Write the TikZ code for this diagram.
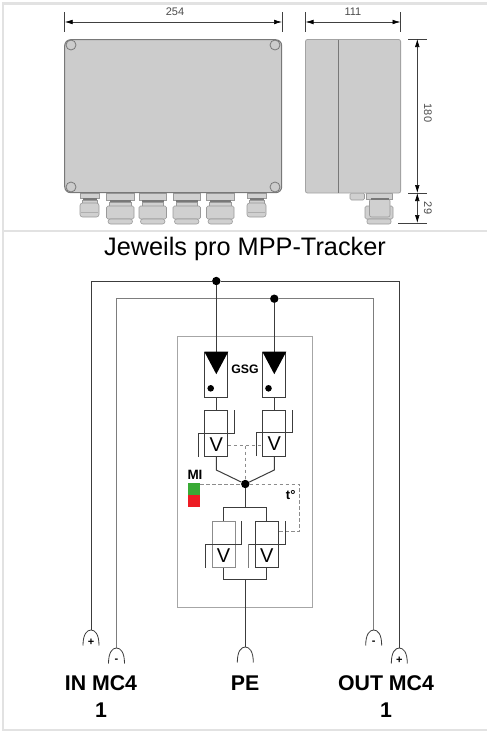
\documentclass[tikz,border=0pt]{standalone}
\usepackage{fontspec}
\setmainfont{Liberation Sans}
\usetikzlibrary{arrows.meta,calc}
\definecolor{framegray}{RGB}{226,226,226}
\definecolor{bodygray}{RGB}{204,204,204}
\definecolor{edgegray}{RGB}{120,120,120}
\definecolor{glandgray}{RGB}{208,208,208}
\definecolor{wiredark}{RGB}{60,60,60}
\definecolor{wiregray}{RGB}{125,125,125}
\definecolor{migreen}{RGB}{57,170,53}
\definecolor{mired}{RGB}{237,28,36}
\tikzset{
  frameline/.style={draw=framegray,line width=2.4pt},
  housing/.style={draw=edgegray,fill=bodygray,line width=1pt},
  screw/.style={draw=edgegray,line width=.8pt},
  dimline/.style={draw=black!75,line width=.6pt},
  dimarrow/.style={dimline,{Latex[length=8pt,width=4.6pt,black]}-{Latex[length=8pt,width=4.6pt,black]}},
  dimtext/.style={inner sep=0pt,text=black!70,font=\fontsize{11}{13}\selectfont},
  gl/.style={draw=edgegray!75,fill=glandgray,line width=.6pt},
  gldark/.style={draw=none,fill=edgegray},
  wire/.style={draw=wiredark,line width=1pt},
  wirelight/.style={draw=wiregray,line width=1pt},
  junction/.style={circle,fill=black,inner sep=0pt,minimum size=8.4pt},
  smalldot/.style={circle,fill=black,inner sep=0pt,minimum size=6.6pt},
  modulebox/.style={draw=wiredark,fill=white,line width=.9pt,minimum width=23pt,minimum height=45.6pt,inner sep=0pt},
  relay/.style={draw=wiredark,line width=.9pt,minimum width=23pt,minimum height=46pt,inner sep=0pt},
  relaygray/.style={relay,draw=black!45,line width=1pt},
  sensor/.style={draw=black!45,dash pattern=on 3.5pt off 2.5pt,line width=.8pt},
  vtext/.style={inner sep=0pt,font=\fontsize{20}{22}\selectfont},
  boldlabel/.style={inner sep=0pt,font=\bfseries\fontsize{21.3}{24}\selectfont},
  smallbold/.style={inner sep=0pt,font=\bfseries\fontsize{12.3}{14}\selectfont},
  plug/.style={draw=wiredark,line width=.8pt},
  sign/.style={inner sep=0pt,font=\bfseries\fontsize{11}{12}\selectfont},
}
\newcommand{\glandbig}[1]{%
  \begin{scope}[shift={(#1,0)}]
    \filldraw[gl] (0,193.5) rectangle (27.5,200);
    \fill[gldark] (3,200) rectangle (24.5,202.5);
    \filldraw[gl] (3,202.5) rectangle (24.5,206);
    \draw[gl,rounded corners=1.5pt] (0,206) rectangle (27.5,219);
    \draw[gl,rounded corners=2.5pt] (1.5,219) rectangle (26,224);
  \end{scope}}
\newcommand{\glandsmall}[1]{%
  \begin{scope}[shift={(#1,0)}]
    \filldraw[gl] (0,193.5) rectangle (19,198);
    \fill[gldark] (2.5,198) rectangle (16.5,200);
    \filldraw[gl] (2,200) rectangle (17,203);
    \draw[gl,rounded corners=2.5pt] (0,203) rectangle (19,217);
    \fill[edgegray!60] (1,212) rectangle (18,212.8);
  \end{scope}}
\newcommand{\plugsym}[2]{%
  \draw[plug] ($(#1)+(-8,15.5)$) .. controls ($(#1)+(-8,4)$) and ($(#1)+(-4,0)$) .. (#1)
     .. controls ($(#1)+(4,0)$) and ($(#1)+(8,4)$) .. ($(#1)+(8,15.5)$);
  \node[sign] at ($(#1)+(0,12.5)$) {#2};}
\begin{document}
\begin{tikzpicture}[x=1pt,y=-1pt]
\useasboundingbox (0,0) rectangle (487,731);
\fill[white] (0,0) rectangle (487,731);
% outer frame
\draw[frameline] (487,3.5) -- (3.2,3.5) -- (3.2,730) -- (487,730);
\draw[frameline] (3.2,231) -- (487,231);

% front view glands
\glandsmall{80}
\glandbig{106.5}
\glandbig{139}
\glandbig{173}
\glandbig{206.5}
\glandsmall{247}
% front housing
\draw[housing,rounded corners=6pt] (64.7,39.7) rectangle (281.7,192.7);
\draw[screw] (71,45) circle (5);
\draw[screw] (275,45) circle (5);
\draw[screw] (71,187) circle (5);
\draw[screw] (275,187) circle (5);

% dimension 254
\coordinate (a1) at (64.7,22); \coordinate (a2) at (282,22);
\draw[dimline] (64.7,12) -- (64.7,32);
\draw[dimline] (282,12) -- (282,32);
\draw[dimarrow] (a1) -- (a2);
\node[dimtext] (t254) at (175,12) {254};

% side view glands
\draw[gl,rounded corners=1.5pt] (350,193) rectangle (364.5,200);
\filldraw[gl] (366,193) rectangle (392.7,199.5);
\draw[gl,rounded corners=1.5pt] (365,206) rectangle (393,219);
\draw[gl,rounded corners=2pt] (367,219) rectangle (391,224);
\draw[gl,rounded corners=2pt] (369.5,199) rectangle (390,217);
\fill[gldark] (371,198) rectangle (389,200);
% side housing
\draw[draw=bodygray!80!black,fill=bodygray,line width=.8pt,rounded corners=2pt] (305.5,39.5) rectangle (400.6,193);
\draw[draw=edgegray,line width=.8pt] (338.3,39.5) -- (338.3,193);

% dimension 111
\coordinate (b1) at (305.5,22); \coordinate (b2) at (400.5,22);
\draw[dimline] (305.5,12) -- (305.5,32);
\draw[dimline] (400.5,12) -- (400.5,32);
\draw[dimarrow] (b1) -- (b2);
\node[dimtext] (t111) at (353,12) {111};

% dimensions 180, 29
\coordinate (c1) at (417.3,39); \coordinate (c2) at (417.3,193); \coordinate (c3) at (417.3,223);
\draw[dimline] (408,39) -- (427,39);
\draw[dimline] (408,193) -- (427,193);
\draw[dimline] (398,223) -- (427,223);
\draw[dimarrow] (c1) -- (c2);
\draw[dimarrow] (c2) -- (c3);
\node[dimtext,rotate=-90] (t180) at (428,113) {180};
\node[dimtext,rotate=-90] (t29) at (428,208) {29};

% title
\node[inner sep=0pt,font=\fontsize{25.3}{28}\selectfont] (title) at (245,249) {Jeweils pro MPP-Tracker};

% inner box
\draw[draw=black!35,line width=.9pt] (177.7,336.5) rectangle (312.7,607);

% named nodes
\node[junction] (J1) at (216.3,281) {};
\node[junction] (J2) at (274.3,298.7) {};
\node[junction] (J3) at (245.3,484) {};
\node[modulebox,anchor=north] (M1) at (216.3,351.7) {};
\node[modulebox,anchor=north] (M2) at (274.3,351.7) {};
\node[relay,anchor=north] (R1) at (216.3,410.3) {};
\node[relay,anchor=north] (R2) at (274.3,409.5) {};
\node[relaygray,anchor=north] (R3) at (223.5,520.8) {};
\node[relay,anchor=north] (R4) at (266.9,521.2) {};

\coordinate (OLb) at (91,630);
\coordinate (ILb) at (116.5,648);
\coordinate (PEb) at (245.3,647);
\coordinate (IRb) at (373.7,630);
\coordinate (ORb) at (399.3,648);

% bus wires
\draw[wire] (OLb) -- (91,281) -- (J1) -- (399.3,281) -- (ORb);
\draw[wirelight] (ILb) -- (116.5,298.7) -- (J2) -- (373.7,298.7) -- (IRb);
\draw[wire] (J1) -- (M1.north);
\draw[wire] (J2) -- (M2.north);
\draw[wire] (M1.south) -- (R1.north);
\draw[wire] (M2.south) -- (R2.north);
\draw[wire] (R1.south) -- (216.3,470) -- (J3);
\draw[wire] (R2.south) -- (274.3,470) -- (J3);

% diode triangles
\fill[black] (M1.north west) -- (M1.north east) -- ($(M1.north)+(0,22.5)$) -- cycle;
\fill[black] (M2.north west) -- (M2.north east) -- ($(M2.north)+(0,22.5)$) -- cycle;
\node[smalldot] (d1) at (210.7,388.3) {};
\node[smalldot] (d2) at (268.5,388.3) {};
\node[smallbold] (gsg) at (245,369.7) {GSG};

% relay contacts top
\draw[wire,line width=.9pt] (198.3,456.7) -- (198.3,433.3) -- (234.3,433.3) -- (234.3,410.3);
\draw[wire,line width=.9pt] (256.3,456) -- (256.3,432.3) -- (292.7,432.3) -- (292.7,409.5);
\node[vtext] (v1) at (216.3,445) {V};
\node[vtext] (v2) at (274.3,444) {V};

% sensor lines
\coordinate (s1) at (245.3,445.5);
\draw[sensor] (227.8,445.5) -- (262.8,445.5);
\draw[sensor] (s1) -- (J3);
\draw[sensor] (200.3,484) -- (J3) -- (299.3,484) -- (299.3,531.7) -- (278.4,531.7);

% MI
\node[inner sep=0pt,font=\bfseries\fontsize{13.5}{15}\selectfont] (mi) at (195,475) {MI};
\fill[migreen] (188.3,483.3) rectangle (200.3,495.2);
\fill[mired] (188.3,495.2) rectangle (200.3,507);
\node[inner sep=0pt,font=\bfseries\fontsize{13}{15}\selectfont] (temp) at (290.7,495) {t°};

% lower group
\coordinate (L1) at (245.3,507.3);
\draw[wire] (J3) -- (L1);
\draw[wire] (R3.north) -- (223.5,507.3) -- (266.9,507.3) -- (R4.north);
\draw[wire] (R3.south) -- (223.5,579.3) -- (266.9,579.3) -- (R4.south);
\draw[wire] (245.3,579.3) -- (PEb);

% relay contacts bottom
\draw[wire,line width=.9pt] (205.3,567.7) -- (205.3,544.3) -- (241.7,544.3) -- (241.7,520.7);
\draw[wirelight] (248.8,567.7) -- (248.8,544.3);
\draw[wire,line width=.9pt] (248.8,544.3) -- (285.3,544.3) -- (285.3,521);
\node[vtext] (v3) at (223.5,556) {V};
\node[vtext] (v4) at (266.9,556) {V};

% connectors
\plugsym{OLb}{+}
\plugsym{ILb}{-}
\plugsym{PEb}{}
\plugsym{IRb}{-}
\plugsym{ORb}{+}

% bottom labels
\node[boldlabel] (in) at (101,683.5) {IN MC4};
\node[boldlabel] (in1) at (101,710) {1};
\node[boldlabel] (pe) at (245,683.5) {PE};
\node[boldlabel] (out) at (386,683.5) {OUT MC4};
\node[boldlabel] (out1) at (386,710) {1};
\end{tikzpicture}
\end{document}
